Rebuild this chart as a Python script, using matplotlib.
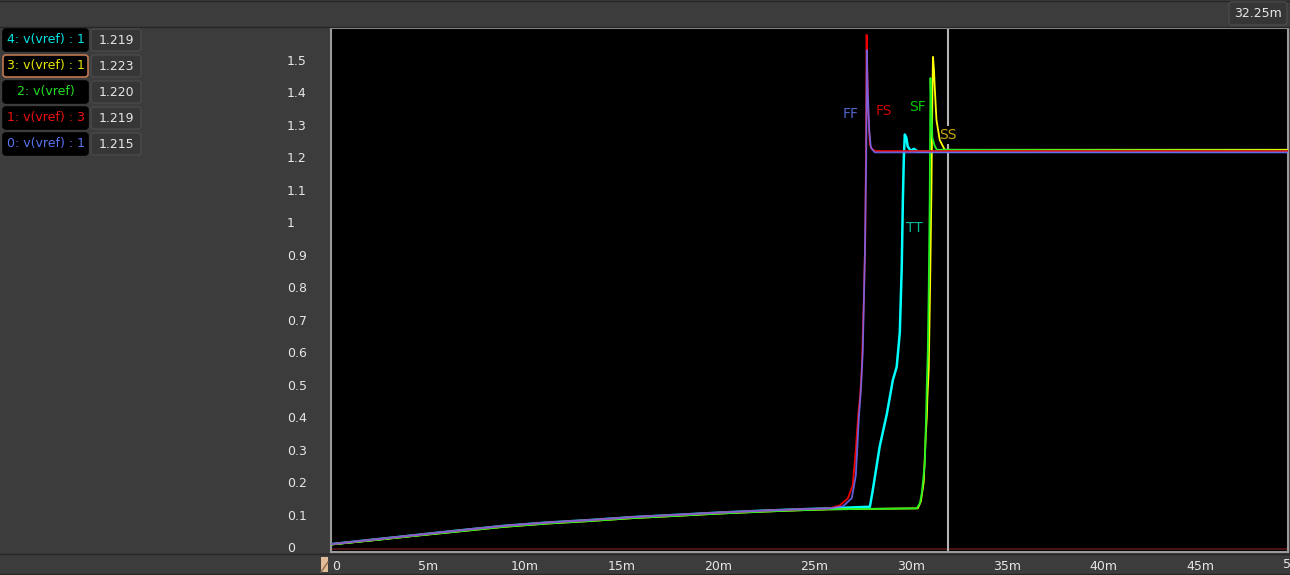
import matplotlib

matplotlib.use("Agg")
import matplotlib.pyplot as plt
from matplotlib.patches import FancyBboxPatch, Rectangle
from matplotlib.lines import Line2D
from matplotlib.transforms import IdentityTransform

W, H = 1290, 575

# ---------------------------------------------------------------------------
# Data (time in ms, voltage in V)
# ---------------------------------------------------------------------------

ramp_t = [0.0, 2.2, 4.4, 6.6, 8.9, 11.1, 13.4, 15.6, 17.9, 20.1, 22.4, 24.2, 25.8]
ramp_v = [0.009, 0.023, 0.037, 0.051, 0.065, 0.075, 0.083, 0.092, 0.099, 0.106, 0.112, 0.116, 0.119]
ramp_v_slow = [0.008, 0.021, 0.035, 0.048, 0.062, 0.072, 0.080, 0.089, 0.096, 0.103, 0.109, 0.113, 0.116]

ff_t = [26.48, 26.94, 27.15, 27.31, 27.41, 27.51, 27.62, 27.69, 27.72, 27.77, 27.85, 27.93, 28.13, 49.6]
ff_v = [0.125, 0.15, 0.22, 0.40, 0.48, 0.60, 0.90, 1.20, 1.53, 1.40, 1.28, 1.23, 1.215, 1.215]

fs_t = [26.32, 26.74, 26.99, 27.15, 27.28, 27.38, 27.46, 27.56, 27.64, 27.68, 27.71, 27.75, 27.80, 27.88, 27.98, 28.19, 49.6]
fs_v = [0.128, 0.15, 0.19, 0.30, 0.41, 0.47, 0.55, 0.75, 0.95, 1.25, 1.577, 1.45, 1.33, 1.24, 1.225, 1.219, 1.219]

tt_t = [27.88, 28.03, 28.39, 28.76, 29.07, 29.27, 29.43, 29.53, 29.59, 29.64, 29.69, 29.77, 29.84, 30.00, 30.16, 30.36, 49.6]
tt_v = [0.124, 0.175, 0.31, 0.41, 0.514, 0.555, 0.66, 0.86, 1.07, 1.20, 1.27, 1.26, 1.233, 1.22, 1.226, 1.218, 1.219]

sf_t = [30.31, 30.47, 30.57, 30.73, 30.83, 30.88, 30.93, 30.98, 31.02, 31.06, 31.12, 31.24, 31.35, 49.6]
sf_v = [0.119, 0.135, 0.166, 0.26, 0.50, 0.60, 0.80, 1.07, 1.444, 1.35, 1.26, 1.235, 1.223, 1.220]

ss_t = [30.36, 30.52, 30.67, 30.78, 30.83, 30.86, 30.93, 31.00, 31.07, 31.12, 31.15, 31.20, 31.24, 31.33, 31.50, 31.76, 49.6]
ss_v = [0.119, 0.14, 0.20, 0.35, 0.40, 0.46, 0.55, 0.80, 1.10, 1.40, 1.509, 1.47, 1.417, 1.315, 1.253, 1.223, 1.223]

cursor_t = 31.92

legend_names = ["4: v(vref) : 1", "3: v(vref) : 1", "2: v(vref)", "1: v(vref) : 3", "0: v(vref) : 1"]
legend_values = ["1.219", "1.223", "1.220", "1.219", "1.215"]
legend_colors = ["#00e5e5", "#e6e600", "#22dd22", "#ee1111", "#5a72f0"]

y_ticks = [0, 0.1, 0.2, 0.3, 0.4, 0.5, 0.6, 0.7, 0.8, 0.9, 1.0, 1.1, 1.2, 1.3, 1.4, 1.5]
y_labels = ["0", "0.1", "0.2", "0.3", "0.4", "0.5", "0.6", "0.7", "0.8", "0.9", "1",
            "1.1", "1.2", "1.3", "1.4", "1.5"]
x_ticks = [0, 5, 10, 15, 20, 25, 30, 35, 40, 45]
x_labels = ["0", "5m", "10m", "15m", "20m", "25m", "30m", "35m", "40m", "45m"]

corner_labels = [
    ("FF", 26.89, 1.333, "#5064c8"),
    ("FS", 28.60, 1.343, "#cc0000"),
    ("SF", 30.36, 1.355, "#00c800"),
    ("TT", 30.16, 0.982, "#00b89a"),
]

BG = "#3c3c3c"
TXT = "#e6e6e6"


def px_box(fig, x, y, w, h, face, edge, lw=1.0, r=3):
    # x, y = top-left corner in image pixels
    p = FancyBboxPatch((x, H - y - h), w, h, boxstyle=f"round,pad=0,rounding_size={r}",
                       facecolor=face, edgecolor=edge, linewidth=lw,
                       transform=IdentityTransform(), zorder=5)
    fig.patches.append(p)


def px_text(fig, x, y, s, color, size=9, ha="center"):
    fig.text(x / W, 1 - y / H, s, color=color, fontsize=size, ha=ha, va="center",
             family="DejaVu Sans", zorder=6)


fig = plt.figure(figsize=(W / 100, H / 100), dpi=100, facecolor=BG)

left, right, top, bottom = 331, 1288, 28, 552
ax = fig.add_axes([left / W, 1 - bottom / H, (right - left) / W, (bottom - top) / H])
ax.set_facecolor("black")

ax.axhline(-0.007, color="#4a1212", lw=1.5, zorder=1)

# cursor sits under the traces; the SS tag blanks it out locally
ax.axvline(cursor_t, color="#b4b4b4", lw=1.5, zorder=1.5)
ax.text(31.92, 1.269, "SS", color="#c8a800", fontsize=10, ha="center", va="center", zorder=1.8,
        bbox={"facecolor": "black", "edgecolor": "none", "pad": 1.5})

# traces: cyan/yellow/green under red/blue, blue on top
ax.plot(ramp_t + tt_t, ramp_v + tt_v, color="#00ffff", lw=1.8, zorder=2)
ax.plot(ramp_t + ss_t, ramp_v_slow + ss_v, color="#ffff00", lw=1.3, zorder=3)
ax.plot(ramp_t + sf_t, ramp_v_slow + sf_v, color="#22ee22", lw=1.3, zorder=4)
ax.plot(ramp_t + fs_t, ramp_v + fs_v, color="#ee0000", lw=1.3, zorder=5)
ax.plot(ramp_t + ff_t, ramp_v + ff_v, color="#7070ff", lw=1.3, alpha=0.85, zorder=6)

for name, tx, ty, col in corner_labels:
    ax.text(tx, ty, name, color=col, fontsize=10, ha="center", va="center", zorder=8)

ax.set_xlim(-0.05, 49.55)
ax.set_ylim(-0.0154, 1.598)

ax.set_yticks(y_ticks)
ax.set_yticklabels(y_labels)
ax.set_xticks(x_ticks)
ax.set_xticklabels(x_labels)
ax.tick_params(axis="both", length=0, colors=TXT, labelsize=9)
ax.tick_params(axis="y", pad=31.7)
ax.tick_params(axis="x", pad=6)
for lab in ax.get_yticklabels():
    lab.set_horizontalalignment("left")
ax.get_xticklabels()[0].set_horizontalalignment("left")

# 50m label falls past the right edge of the window, as in the viewer
fig.text((left + 50.05 * (right - left) / 49.6) / W, 1 - 565 / H, "50m", color=TXT,
         fontsize=9, ha="center", va="center")

for s in ax.spines.values():
    s.set_color("#9a9a9a")
    s.set_linewidth(1.5)

# window chrome: top bar and bottom strip separators
for y in (0.5, 27, 554, 574):
    fig.add_artist(Line2D([0, 1], [1 - y / H, 1 - y / H], color="#262626", lw=1.0,
                          transform=fig.transFigure))

# scroll handle at bottom left
fig.patches.append(Rectangle((321, H - 572), 7, 15, facecolor="#e2bc96", edgecolor="none",
                             transform=IdentityTransform(), zorder=5))
fig.add_artist(Line2D([321, 328], [H - 572, H - 562], color="#8a6a50", lw=1.0,
                      transform=IdentityTransform(), zorder=6))

# signal list on the left
for i, (name, val, col) in enumerate(zip(legend_names, legend_values, legend_colors)):
    y0 = 29 + 26 * i
    edge = "#c07850" if i == 1 else "black"
    px_box(fig, 3, y0, 85, 22, "black", edge, lw=1.2)
    px_text(fig, 3 + 85 / 2, y0 + 11, name, col)
    px_box(fig, 91, y0, 50, 22, "#363636", "#4a4a4a")
    px_text(fig, 91 + 25, y0 + 11, val, TXT)

# cursor readout top right
px_box(fig, 1229, 2, 58, 23, "#363636", "#4a4a4a")
px_text(fig, 1229 + 29, 13.5, "32.25m", TXT)

fig.savefig("out.png", dpi=100, facecolor=BG)
